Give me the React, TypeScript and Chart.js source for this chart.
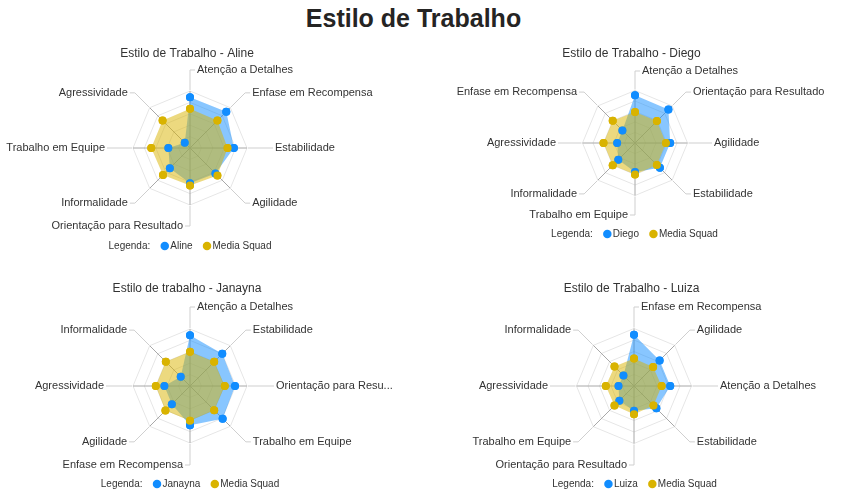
import React, { useEffect, useRef } from 'react';
import { Chart, registerables } from 'chart.js';

Chart.register(...registerables);

const FONT = '"Liberation Sans", Arial, sans-serif';
Chart.defaults.font.family = FONT;

// ---------- data ----------
const mainTitle = 'Estilo de Trabalho';
const squadLabel = 'Media Squad';

const alineTitle = 'Estilo de Trabalho - Aline';
const alineCategories = ['Atenção a Detalhes', 'Enfase em Recompensa', 'Estabilidade', 'Agilidade', 'Orientação para Resultado', 'Informalidade', 'Trabalho em Equipe', 'Agressividade'];
const alineValues = [89, 90, 77, 63, 62, 50, 38, 13];
const alineSquad = [69, 68, 66, 68, 66, 67, 68, 68];

const diegoTitle = 'Estilo de Trabalho - Diego';
const diegoCategories = ['Atenção a Detalhes', 'Orientação para Resultado', 'Agilidade', 'Estabilidade', 'Trabalho em Equipe', 'Informalidade', 'Agressividade', 'Enfase em Recompensa'];
const diegoValues = [91, 90, 67, 67, 55, 45, 34, 34];
const diegoSquad = [59, 59, 59, 59, 60, 60, 60, 60];

const janaynaTitle = 'Estilo de trabalho - Janayna';
const janaynaCategories = ['Atenção a Detalhes', 'Estabilidade', 'Orientação para Resultado', 'Trabalho em Equipe', 'Enfase em Recompensa', 'Agilidade', 'Agressividade', 'Informalidade'];
const janaynaValues = [89, 80, 79, 81, 69, 45, 45, 23];
const janaynaSquad = [60, 60, 61, 60, 61, 61, 60, 60];

const luizaTitle = 'Estilo de Trabalho - Luiza';
const luizaCategories = ['Enfase em Recompensa', 'Agilidade', 'Atenção a Detalhes', 'Estabilidade', 'Orientação para Resultado', 'Trabalho em Equipe', 'Agressividade', 'Informalidade'];
const luizaValues = [89, 63, 63, 55, 43, 36, 27, 26];
const luizaSquad = [48, 47, 48, 48, 49, 48, 49, 48];

// ---------- styles / layout ----------
const BLUE = '#118DFF';
const GOLD = '#D9B300';
const BLUE_FILL = 'rgba(17,141,255,0.5)';
const GOLD_FILL = 'rgba(217,179,0,0.5)';

type Panel = {
  title: string; person: string; categories: string[]; values: number[]; squad: number[];
  left: number; top: number; width: number; height: number; padLeft: number; padRight: number;
  titleTop: number; cx: number; cy: number; R: number; reach: number;
};

const panels: Panel[] = [
  { title: alineTitle, person: 'Aline', categories: alineCategories, values: alineValues, squad: alineSquad,
    left: 0, top: 40, width: 400, height: 221, padLeft: 0, padRight: 26, titleTop: 6, cx: 190, cy: 148, R: 57, reach: 78 },
  { title: diegoTitle, person: 'Diego', categories: diegoCategories, values: diegoValues, squad: diegoSquad,
    left: 420, top: 40, width: 421, height: 209, padLeft: 2, padRight: 0, titleTop: 6, cx: 635, cy: 143, R: 52.5, reach: 72 },
  { title: janaynaTitle, person: 'Janayna', categories: janaynaCategories, values: janaynaValues, squad: janaynaSquad,
    left: 0, top: 270, width: 400, height: 229, padLeft: 0, padRight: 26, titleTop: 11, cx: 190, cy: 386, R: 57, reach: 79 },
  { title: luizaTitle, person: 'Luiza', categories: luizaCategories, values: luizaValues, squad: luizaSquad,
    left: 420, top: 270, width: 421, height: 229, padLeft: 2, padRight: 0, titleTop: 11, cx: 634, cy: 386, R: 57.5, reach: 79 },
];

// draws category labels at the end of elbow-shaped leader lines
const leaderLabelsPlugin = {
  id: 'leaderLabels',
  afterDraw(chart: any, _args: any, opts: any) {
    const scale = chart.scales.r;
    const labels = chart.data.labels as string[];
    const ctx = chart.ctx as CanvasRenderingContext2D;
    const R = scale.drawingArea;
    ctx.save();
    ctx.font = `${opts.size}px ${FONT}`;
    ctx.textBaseline = 'middle';
    labels.forEach((label, i) => {
      const a = scale.getPointPosition(i, R + 1);
      const b = scale.getPointPosition(i, opts.reach);
      const vert = Math.abs(b.x - scale.xCenter) < 1;
      let dir = b.x > scale.xCenter ? 1 : -1;
      if (vert) dir = b.y < scale.yCenter ? 1 : -1;
      ctx.strokeStyle = opts.lineColor;
      ctx.lineWidth = 1;
      ctx.beginPath();
      ctx.moveTo(a.x, a.y);
      ctx.lineTo(b.x, b.y);
      ctx.lineTo(b.x + dir * opts.elbow, b.y);
      ctx.stroke();
      const tx = b.x + dir * (opts.elbow + opts.gap);
      let text = label;
      if (dir > 0) {
        const avail = chart.width - tx - opts.rightMargin;
        if (ctx.measureText(text).width > avail) {
          while (text.length && ctx.measureText(text + '...').width > avail) text = text.slice(0, -1);
          text = text.trimEnd() + '...';
        }
      }
      ctx.fillStyle = opts.color;
      ctx.textAlign = dir > 0 ? 'left' : 'right';
      ctx.fillText(text, tx, b.y);
    });
    ctx.restore();
  },
};

// re-draws the point markers above every filled area (person first, squad on top)
const pointsOnTopPlugin = {
  id: 'pointsOnTop',
  afterDatasetsDraw(chart: any) {
    const ctx = chart.ctx;
    [0, 1].forEach((di) => {
      const meta = chart.getDatasetMeta(di);
      meta.data.forEach((el: any) => el.draw(ctx, chart.chartArea));
    });
  },
};

function RadarPanel({ p }: { p: Panel }) {
  const ref = useRef<HTMLCanvasElement>(null);
  useEffect(() => {
    const canvas = ref.current!;
    const chart = new Chart(canvas, {
      type: 'radar',
      data: {
        labels: p.categories,
        datasets: [
          {
            label: p.person, data: p.values, fill: true, backgroundColor: BLUE_FILL,
            borderColor: 'rgba(0,0,0,0)', borderWidth: 0,
            pointBackgroundColor: BLUE, pointBorderColor: BLUE, pointBorderWidth: 0, pointRadius: 4,
            order: 2, clip: false,
          } as any,
          {
            label: squadLabel, data: p.squad, fill: true, backgroundColor: GOLD_FILL,
            borderColor: 'rgba(0,0,0,0)', borderWidth: 0,
            pointBackgroundColor: GOLD, pointBorderColor: GOLD, pointBorderWidth: 0, pointRadius: 4,
            order: 1, clip: false,
          } as any,
        ],
      },
      options: {
        responsive: false,
        animation: false,
        events: [],
        layout: { padding: { left: p.padLeft, right: p.padRight, top: 0, bottom: 0 } },
        elements: { line: { tension: 0 } },
        scales: {
          r: {
            min: 0, max: 100,
            ticks: { display: false, stepSize: 20 },
            grid: { color: '#e6e6e6', lineWidth: 1 },
            angleLines: { color: '#a8a8a8', lineWidth: 1 },
            pointLabels: { display: false },
            afterFit: (s: any) => {
              s.xCenter = p.cx - p.left;
              s.yCenter = p.cy - p.top;
              s.drawingArea = p.R;
            },
          } as any,
        },
        plugins: {
          title: {
            display: true, text: p.title, color: '#333',
            font: { size: 12, weight: 'normal', family: FONT },
            padding: { top: p.titleTop, bottom: 0 },
          },
          legend: {
            display: true, position: 'bottom',
            onClick: () => {},
            labels: {
              usePointStyle: true, boxWidth: 1, boxHeight: 6, padding: 14,
              color: '#333', font: { size: 10, family: FONT },
              generateLabels: (c: any) => [
                { text: 'Legenda:', fillStyle: 'rgba(0,0,0,0)', strokeStyle: 'rgba(0,0,0,0)', lineWidth: 0, pointStyle: 'circle', hidden: false, fontColor: '#333' },
                ...c.data.datasets.map((ds: any, i: number) => ({
                  text: ds.label, fillStyle: ds.pointBackgroundColor, strokeStyle: ds.pointBackgroundColor,
                  lineWidth: 0, pointStyle: 'circle', hidden: false, datasetIndex: i, fontColor: '#333',
                })),
              ],
            },
          },
          tooltip: { enabled: false },
          leaderLabels: { reach: p.reach, elbow: 5, gap: 2, size: 11, color: '#333', lineColor: '#cfcfcf', rightMargin: 6 },
        } as any,
      },
      plugins: [leaderLabelsPlugin, pointsOnTopPlugin],
    });
    return () => chart.destroy();
  }, []);
  return (
    <canvas
      ref={ref}
      width={p.width}
      height={p.height}
      style={{ position: 'absolute', left: p.left, top: p.top, width: p.width, height: p.height }}
    />
  );
}

export default function App() {
  return (
    <div style={{ position: 'fixed', left: 0, top: 0, width: 841, height: 494, overflow: 'hidden', background: '#fff' }}>
      <div
        style={{
          position: 'absolute', left: 0, top: 3, width: 827, textAlign: 'center',
          font: `bold 25px ${FONT}`, lineHeight: '30px', color: '#252423',
        }}
      >
        {mainTitle}
      </div>
      {panels.map((p) => (
        <RadarPanel key={p.person} p={p} />
      ))}
    </div>
  );
}
